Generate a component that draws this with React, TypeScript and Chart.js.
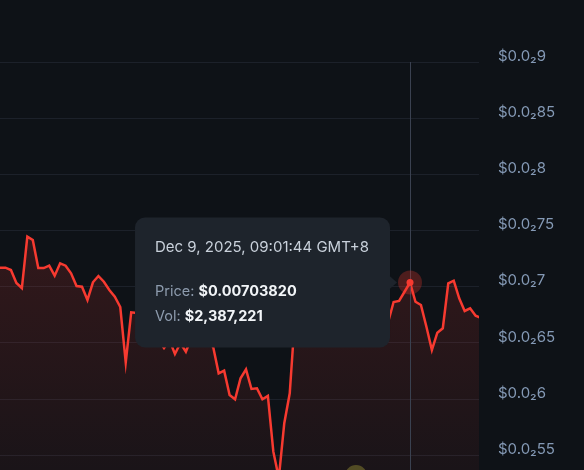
import React, { useEffect, useRef } from "react";
import { Chart, registerables } from "chart.js";

Chart.register(...registerables);

// Price series (USD), one value per sample
const prices: number[] = [
  0.00717, 0.00717, 0.007149, 0.007034, 0.006989, 0.007446, 0.007416, 0.007167, 0.007167, 0.007188,
  0.007099, 0.007209, 0.007188, 0.00712, 0.007007, 0.007001, 0.006883, 0.00704, 0.007096, 0.007045,
  0.006972, 0.006912, 0.00682, 0.006328, 0.006773, 0.006767, 0.006705, 0.006616, 0.00666, 0.006527,
  0.006456, 0.006527, 0.006402, 0.0065, 0.006423, 0.006545, 0.006616, 0.006562, 0.006509, 0.006464,
  0.00623, 0.006254, 0.006037, 0.005999, 0.006186, 0.006266, 0.006091, 0.006097, 0.005999, 0.006029,
  0.005533, 0.005299, 0.005786, 0.006053, 0.006767, 0.006883, 0.006918, 0.006838, 0.006776, 0.006883,
  0.006954, 0.0069, 0.006794, 0.00674, 0.006838, 0.0069, 0.006847, 0.006776, 0.006722, 0.006794,
  0.00674, 0.006687, 0.006865, 0.006874, 0.006956, 0.0070382, 0.006867, 0.006838, 0.006645, 0.006438,
  0.006592, 0.006631, 0.007031, 0.007054, 0.006898, 0.006785, 0.006809, 0.006743, 0.006722,
];

const yTickValues: number[] = [0.0055, 0.006, 0.0065, 0.007, 0.0075, 0.008, 0.0085, 0.009];
const yTickLabels: string[] = [
  "$0.0₂55", "$0.0₂6", "$0.0₂65", "$0.0₂7", "$0.0₂75", "$0.0₂8", "$0.0₂85", "$0.0₂9",
];

const yMin = 0.00537;
const yMax = 0.009;
const xMax = 87.62;

const activeIndex = 75;
const tooltipTitle = "Dec 9, 2025, 09:01:44 GMT+8";
const tooltipPriceLabel = "Price: ";
const tooltipPriceValue = "$0.00703820";
const tooltipVolLabel = "Vol: ";
const tooltipVolValue = "$2,387,221";

const BG = "#0e1217";
const LINE = "#f73a30";
const FONT = "Inter, 'Noto Sans', sans-serif";

const overlayPlugin = {
  id: "overlay",
  beforeDraw(chart: any) {
    const { ctx, width, height } = chart;
    ctx.save();
    ctx.fillStyle = BG;
    ctx.fillRect(0, 0, width, height);
    ctx.restore();
  },
  afterDatasetsDraw(chart: any) {
    const { ctx, chartArea } = chart;
    const pt = chart.getDatasetMeta(0).data[activeIndex];
    if (!pt) return;
    const px = pt.x;
    const py = pt.y;
    ctx.save();
    // crosshair
    ctx.strokeStyle = "#3a4150";
    ctx.lineWidth = 1;
    ctx.beginPath();
    ctx.moveTo(Math.round(px) + 0.5, chartArea.top);
    ctx.lineTo(Math.round(px) + 0.5, chartArea.bottom);
    ctx.stroke();
    // watermark logo (partially visible)
    ctx.fillStyle = "rgba(190,180,60,0.35)";
    ctx.beginPath();
    ctx.arc(356, 476, 11, 0, Math.PI * 2);
    ctx.fill();
    // halo + dot
    ctx.fillStyle = "rgba(246,57,47,0.28)";
    ctx.beginPath();
    ctx.arc(px, py, 12, 0, Math.PI * 2);
    ctx.fill();
    ctx.fillStyle = LINE;
    ctx.beginPath();
    ctx.arc(px, py, 3.5, 0, Math.PI * 2);
    ctx.fill();

    // tooltip
    const boxW = 255;
    const boxH = 130;
    const right = px - 20;
    const left = right - boxW;
    const top = py - boxH / 2;
    ctx.fillStyle = "#1e242c";
    ctx.beginPath();
    if (ctx.roundRect) {
      ctx.roundRect(left, top, boxW, boxH, 10);
    } else {
      ctx.rect(left, top, boxW, boxH);
    }
    ctx.fill();
    ctx.beginPath();
    ctx.moveTo(right - 1, py - 7);
    ctx.lineTo(right + 7, py);
    ctx.lineTo(right - 1, py + 7);
    ctx.closePath();
    ctx.fill();

    ctx.textBaseline = "alphabetic";
    ctx.textAlign = "left";
    const tx = left + 20;
    ctx.font = `15px ${FONT}`;
    ctx.fillStyle = "#c9d1db";
    ctx.fillText(tooltipTitle, tx, top + 35);

    ctx.font = `14.5px ${FONT}`;
    ctx.fillStyle = "#8d9bad";
    ctx.fillText(tooltipPriceLabel, tx, top + 79);
    let w = ctx.measureText(tooltipPriceLabel).width;
    ctx.font = `bold 14.5px ${FONT}`;
    ctx.fillStyle = "#f2f5f8";
    ctx.fillText(tooltipPriceValue, tx + w, top + 79);

    ctx.font = `14.5px ${FONT}`;
    ctx.fillStyle = "#8d9bad";
    ctx.fillText(tooltipVolLabel, tx, top + 104);
    w = ctx.measureText(tooltipVolLabel).width;
    ctx.font = `bold 14.5px ${FONT}`;
    ctx.fillStyle = "#f2f5f8";
    ctx.fillText(tooltipVolValue, tx + w, top + 104);
    ctx.restore();
  },
};

export default function App() {
  const canvasRef = useRef<HTMLCanvasElement | null>(null);

  useEffect(() => {
    const canvas = canvasRef.current;
    if (!canvas) return;
    const chart = new Chart(canvas, {
      type: "line",
      data: {
        datasets: [
          {
            data: prices.map((p, i) => ({ x: i, y: p })),
            borderColor: LINE,
            borderWidth: 2.5,
            pointRadius: 0,
            pointHoverRadius: 0,
            tension: 0,
            fill: "start",
            backgroundColor: (c: any) => {
              const area = c.chart.chartArea;
              if (!area) return "rgba(246,57,47,0.15)";
              const g = c.chart.ctx.createLinearGradient(0, area.top, 0, area.bottom);
              g.addColorStop(0, "rgba(246,57,47,0.24)");
              g.addColorStop(1, "rgba(246,57,47,0.05)");
              return g;
            },
          },
        ],
      },
      options: {
        responsive: false,
        animation: false,
        events: [],
        layout: { padding: { top: 62, left: 0, right: 0, bottom: 0 } },
        plugins: {
          legend: { display: false },
          tooltip: { enabled: false },
        },
        scales: {
          x: {
            type: "linear",
            display: false,
            min: 0,
            max: xMax,
          },
          y: {
            position: "right",
            min: yMin,
            max: yMax,
            afterBuildTicks: (scale: any) => {
              scale.ticks = yTickValues.map((v) => ({ value: v }));
            },
            afterFit: (scale: any) => {
              scale.width = 105;
              scale.paddingTop = 0;
              scale.paddingBottom = 0;
            },
            grid: {
              color: "rgba(130,150,180,0.12)",
              drawTicks: false,
            },
            border: { display: false },
            ticks: {
              padding: 19,
              color: "#8499b5",
              font: { family: FONT, size: 15 },
              labelOffset: -6,
              callback: (_v: any, i: number) => yTickLabels[i],
            },
          },
        },
      },
      plugins: [overlayPlugin],
    });
    return () => chart.destroy();
  }, []);

  return (
    <div style={{ position: "fixed", left: 0, top: 0, width: 584, height: 470, background: BG }}>
      <canvas ref={canvasRef} width={584} height={470} style={{ display: "block" }} />
    </div>
  );
}
